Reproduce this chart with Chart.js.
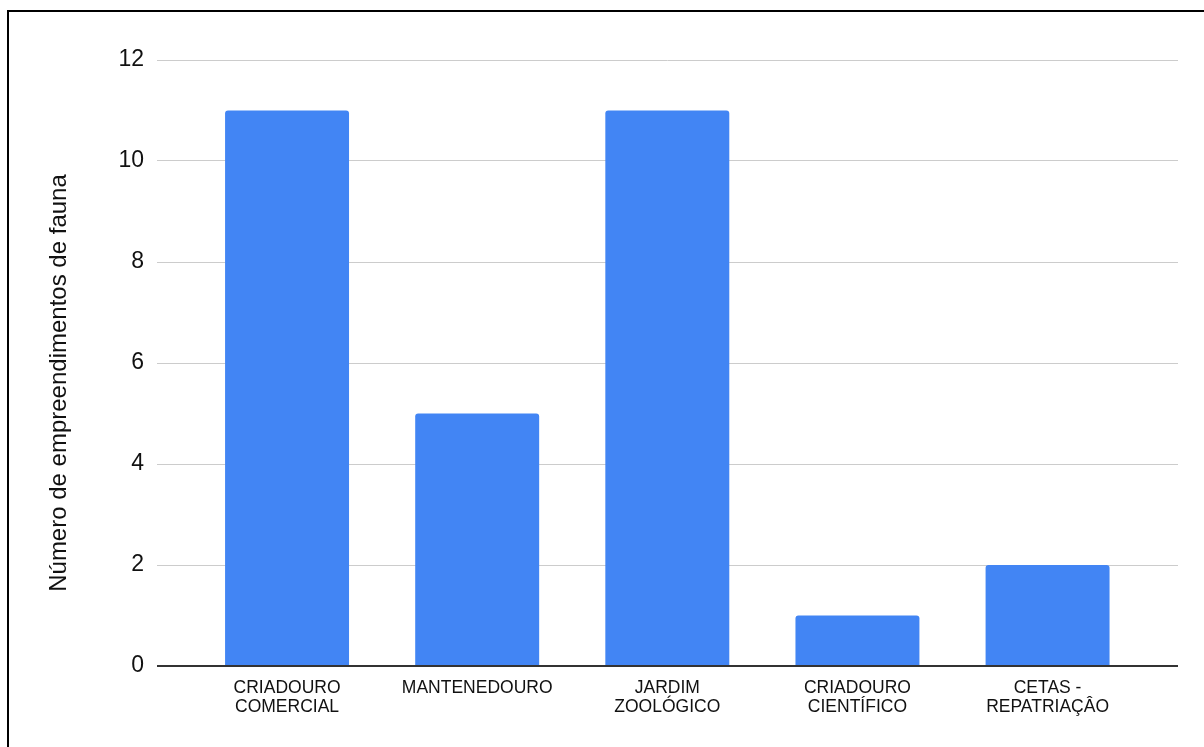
<!DOCTYPE html>
<html>
<head>
<meta charset="utf-8">
<script src="https://cdn.jsdelivr.net/npm/chart.js@4"></script>
<style>
  html, body { margin: 0; padding: 0; background: #fff; overflow: hidden; }
  #wrap { position: relative; width: 1204px; height: 747px; }
  #frame { position: absolute; left: 7px; top: 10px; width: 1230px; height: 770px;
           border-left: 2px solid #000; border-top: 2px solid #000; }
  canvas { position: absolute; left: 0; top: 0; }
</style>
</head>
<body>
<div id="wrap">
  <div id="frame"></div>
  <canvas id="chart" width="1204" height="747"></canvas>
</div>
<script>
const categories = [
  ['CRIADOURO', 'COMERCIAL'],
  ['MANTENEDOURO'],
  ['JARDIM', 'ZOOLÓGICO'],
  ['CRIADOURO', 'CIENTÍFICO'],
  ['CETAS -', 'REPATRIAÇÂO']
];
const values = [11, 5, 11, 1, 2];
const yMin = 0, yMax = 12, yStep = 2;
const yTitle = 'Número de empreendimentos de fauna';

const font = '"Liberation Sans", Arial, Helvetica, sans-serif';

// bars placed at category index on a linear axis so the outer gaps can be wider
const points = values.map((v, i) => ({ x: i, y: v }));

new Chart(document.getElementById('chart').getContext('2d'), {
  type: 'bar',
  data: {
    datasets: [{
      data: points,
      backgroundColor: '#4285F4',
      borderWidth: 0,
      borderRadius: { topLeft: 3, topRight: 3 },
      borderSkipped: 'bottom',
      barPercentage: 0.652,
      categoryPercentage: 1
    }]
  },
  options: {
    responsive: false,
    animation: false,
    layout: { padding: { top: 60, right: 26, left: 0, bottom: 0 } },
    plugins: { legend: { display: false }, tooltip: { enabled: false } },
    scales: {
      x: {
        type: 'linear',
        offset: false,
        min: -0.684,
        max: 4.686,
        grid: { display: false },
        border: { display: false },
        ticks: {
          stepSize: 1,
          includeBounds: false,
          autoSkip: false,
          maxRotation: 0,
          padding: 4,
          color: '#111',
          font: { family: font, size: 17.5, lineHeight: 1.12 },
          callback: v => {
            const i = Math.round(v);
            return Math.abs(v - i) < 1e-6 && categories[i] ? categories[i] : '';
          }
        },
        afterFit: s => { s.height = 81; }
      },
      y: {
        min: yMin,
        max: yMax,
        grid: {
          color: c => c.tick && c.tick.value === 0 ? '#333' : '#ccc',
          lineWidth: c => c.tick && c.tick.value === 0 ? 2 : 1,
          drawTicks: false
        },
        border: { display: false },
        ticks: {
          stepSize: yStep,
          padding: 13,
          color: '#111',
          font: { family: font, size: 23 }
        },
        title: {
          display: true,
          // trailing spaces push the rotated title a little below the plot centre, as in the source
          text: yTitle + '      ',
          color: '#111',
          font: { family: font, size: 24 },
          padding: { top: 45, bottom: 0 }
        },
        afterFit: s => { s.width = 157; }
      }
    }
  }
});
</script>
</body>
</html>
